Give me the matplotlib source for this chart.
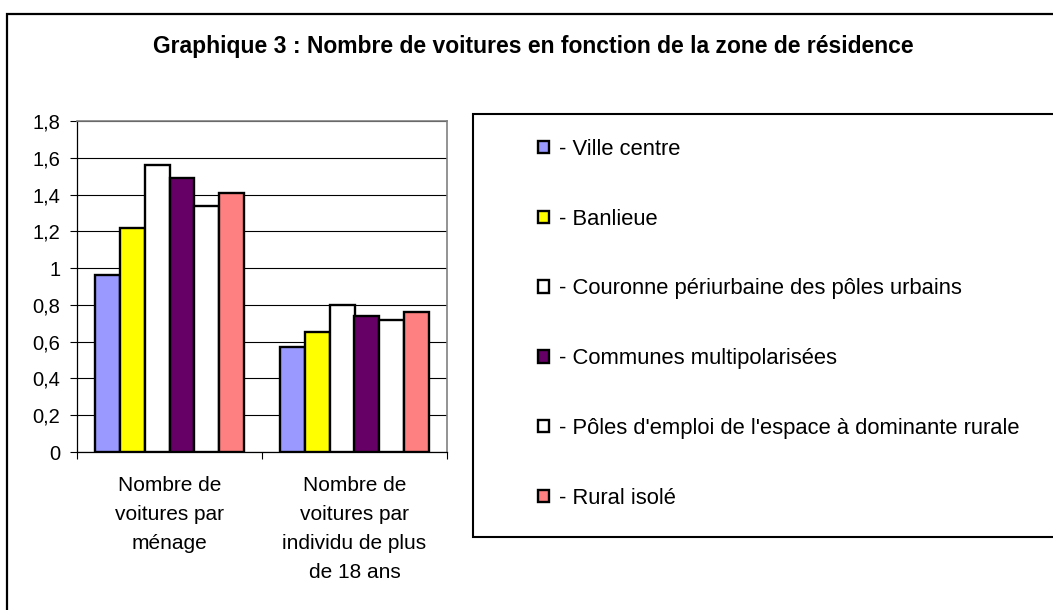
import matplotlib
matplotlib.use("Agg")
import matplotlib.pyplot as plt
from matplotlib.patches import Rectangle
from matplotlib.lines import Line2D
import numpy as np

plt.rcParams['font.family'] = ['Liberation Sans', 'DejaVu Sans']

title = "Graphique 3 : Nombre de voitures en fonction de la zone de résidence"
categories = ["Nombre de\nvoitures par\nménage",
              "Nombre de\nvoitures par\nindividu de plus\nde 18 ans"]
series_names = ["- Ville centre", "- Banlieue",
                "- Couronne périurbaine des pôles urbains",
                "- Communes multipolarisées",
                "- Pôles d'emploi de l'espace à dominante rurale",
                "- Rural isolé"]
series_values = [
    [0.96, 0.57],
    [1.22, 0.65],
    [1.56, 0.80],
    [1.49, 0.74],
    [1.34, 0.72],
    [1.41, 0.76],
]
series_colors = ["#9999FF", "#FFFF00", "#FFFFFF", "#660066", "#FFFFFF", "#FF8080"]
y_ticks = [0, 0.2, 0.4, 0.6, 0.8, 1.0, 1.2, 1.4, 1.6, 1.8]
y_tick_labels = ["0", "0,2", "0,4", "0,6", "0,8", "1", "1,2", "1,4", "1,6", "1,8"]

W, H = 1053, 610
fig = plt.figure(figsize=(W / 100, H / 100), dpi=100)
fig.patch.set_facecolor("white")

# outer frame (left and top visible)
fx = 7 / W
fy = (H - 14) / H
fig.add_artist(Line2D([fx, fx, 1.01], [-0.01, fy, fy], transform=fig.transFigure,
                      color="black", lw=1.6, solid_joinstyle="miter"))

ax_l, ax_r, ax_t, ax_b = 77, 447, 121, 452
ax = fig.add_axes([ax_l / W, (H - ax_b) / H, (ax_r - ax_l) / W, (ax_b - ax_t) / H])

x = np.arange(len(categories))
bw = 0.135
n = len(series_values)
for i, (vals, col, name) in enumerate(zip(series_values, series_colors, series_names)):
    offs = (i - (n - 1) / 2) * bw
    ax.bar(x + offs, vals, width=bw, color=col, edgecolor="black", linewidth=1.7,
           label=name, zorder=3)

ax.set_xlim(-0.5, len(categories) - 0.5)
ax.set_ylim(0, 1.8)
ax.set_yticks(y_ticks)
ax.set_yticklabels(y_tick_labels, fontsize=14.5)
ax.yaxis.grid(True, color="black", linewidth=0.8, zorder=0)
ax.set_axisbelow(True)

# x ticks at category boundaries, labels at centers
ax.set_xticks(np.arange(-0.5, len(categories), 1.0))
ax.set_xticklabels([])
ax.set_xticks(x, minor=True)
ax.set_xticklabels(categories, minor=True, fontsize=15, linespacing=1.68)
ax.tick_params(axis="x", which="minor", length=0, pad=17)
ax.tick_params(axis="x", which="major", length=5, width=0.8, direction="out")
ax.tick_params(axis="y", length=5, width=0.8, direction="out", pad=7)

for s in ["top", "right"]:
    ax.spines[s].set_color("#808080")
    ax.spines[s].set_linewidth(1.2)
for s in ["left", "bottom"]:
    ax.spines[s].set_color("black")
    ax.spines[s].set_linewidth(0.9)

# title
fig.text(533 / W, (H - 47) / H, title, ha="center", va="center",
         fontsize=16.5, fontweight="bold")

# legend frame
lx, lt, lb = 473, 114, 537
fig.add_artist(Rectangle((lx / W, (H - lb) / H), 1.0, (lb - lt) / H,
                         transform=fig.transFigure, facecolor="white",
                         edgecolor="black", linewidth=1.5, zorder=1))

handles, labels = ax.get_legend_handles_labels()
leg = fig.legend(handles, labels, loc="upper left",
                 bbox_to_anchor=(538 / W, (H - 139) / H),
                 frameon=False, fontsize=15.8, handlelength=0.5, handleheight=0.5,
                 handletextpad=0.45, labelspacing=2.22, borderaxespad=0, borderpad=0)
leg.set_zorder(5)

fig.savefig("out.png", dpi=100, facecolor="white")
